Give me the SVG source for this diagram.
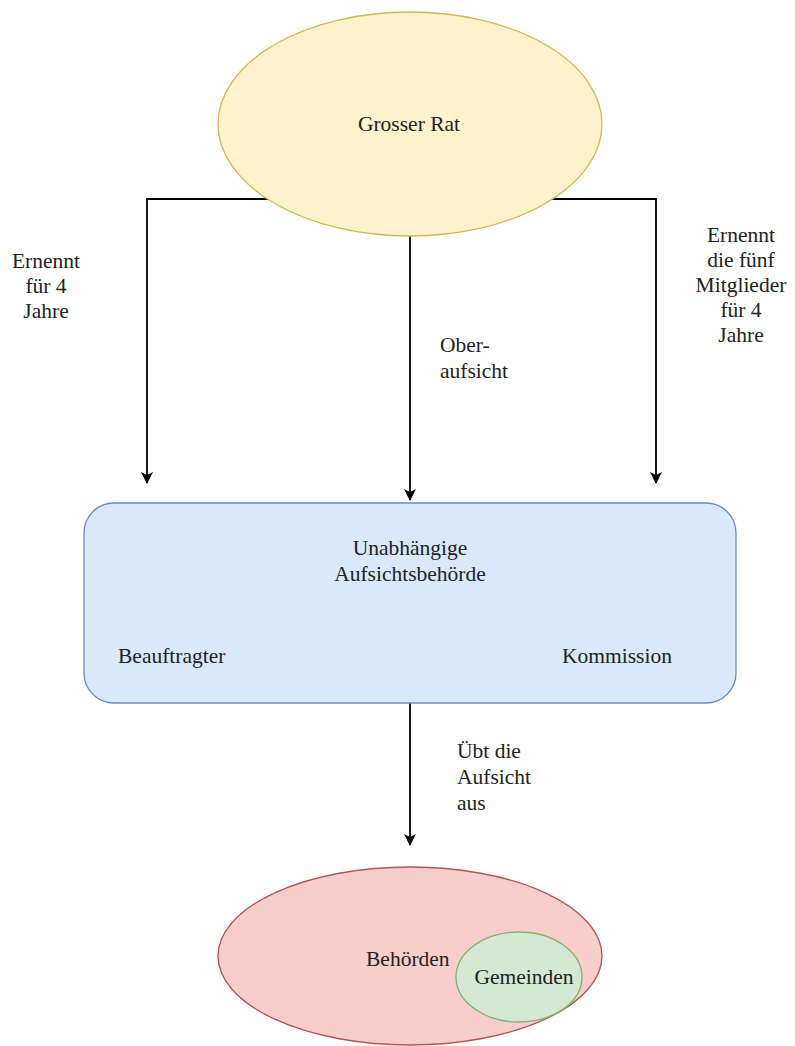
<svg xmlns="http://www.w3.org/2000/svg" width="795" height="1046" viewBox="0 0 795 1046">
<style>
text{font-family:"Liberation Serif","DejaVu Serif","Times New Roman",serif;font-size:21.5px;fill:#222;}
.c{text-anchor:middle;}
.edge{fill:none;stroke:#000;stroke-width:1.8;}
</style>
<defs>
<marker id="arr" viewBox="0 0 12 12" refX="11" refY="6" markerWidth="12" markerHeight="12" markerUnits="userSpaceOnUse" orient="auto">
<path d="M0,0 L12,6 L0,12 L3,6 Z" fill="#000"/>
</marker>
</defs>
<rect width="795" height="1046" fill="#fff"/>
<g id="connectors">
<path class="edge" d="M300,199 H147 V483" marker-end="url(#arr)"/>
<path class="edge" d="M520,199 H656 V483" marker-end="url(#arr)"/>
<path class="edge" d="M410,230 V500" marker-end="url(#arr)"/>
<path class="edge" d="M410,703 V845" marker-end="url(#arr)"/>
<text class="c" x="46" y="268">Ernennt</text>
<text class="c" x="46" y="293">für 4</text>
<text class="c" x="46" y="318">Jahre</text>
<text x="440" y="352">Ober-</text>
<text x="440" y="378">aufsicht</text>
<text class="c" x="741" y="242">Ernennt</text>
<text class="c" x="741" y="267">die fünf</text>
<text class="c" x="741" y="292">Mitglieder</text>
<text class="c" x="741" y="317">für 4</text>
<text class="c" x="741" y="342">Jahre</text>
<text x="457" y="758">Übt die</text>
<text x="457" y="784">Aufsicht</text>
<text x="457" y="810">aus</text>
</g>
<g id="grosser-rat">
<ellipse cx="410" cy="124" rx="192" ry="112" fill="#fff2cc" stroke="#d6b656" stroke-width="1.3"/>
<text class="c" x="409" y="131">Grosser Rat</text>
</g>
<g id="aufsichtsbehoerde">
<rect x="84" y="503" width="652" height="200" rx="30" fill="#dae8fc" stroke="#6c8ebf" stroke-width="1.3"/>
<text class="c" x="410" y="555">Unabhängige</text>
<text class="c" x="410" y="581">Aufsichtsbehörde</text>
<text x="118" y="663">Beauftragter</text>
<text x="562" y="663">Kommission</text>
</g>
<g id="behoerden">
<ellipse cx="410" cy="956" rx="192" ry="89" fill="#f8cecc" stroke="#b85450" stroke-width="1.3"/>
<text x="366" y="966">Behörden</text>
</g>
<g id="gemeinden">
<ellipse cx="519" cy="977" rx="63" ry="45" fill="#d5e8d4" stroke="#82b366" stroke-width="1.3"/>
<text class="c" x="524" y="984">Gemeinden</text>
</g>
</svg>
